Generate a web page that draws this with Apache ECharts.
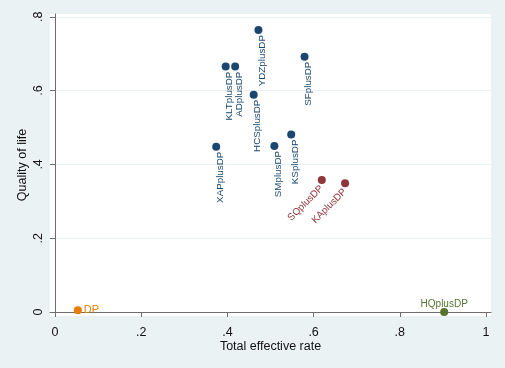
<!DOCTYPE html>
<html>
<head>
<meta charset="utf-8">
<script src="https://cdn.jsdelivr.net/npm/echarts@6/dist/echarts.min.js"></script>
<style>
  html, body { margin: 0; padding: 0; background: #eaf2f3; }
  #chart { width: 505px; height: 368px; }
</style>
</head>
<body>
<div id="chart"></div>
<script>
// treatment names, total effective rate (x), quality of life (y)
const names = ['DP', 'HQplusDP', 'XAPplusDP', 'KLTplusDP', 'ADplusDP', 'YDZplusDP',
  'HCSplusDP', 'SFplusDP', 'SMplusDP', 'KSplusDP', 'SQplusDP', 'KAplusDP'];
const rate = [0.053, 0.903, 0.374, 0.396, 0.418, 0.472, 0.461, 0.579, 0.509, 0.548, 0.619, 0.673];
const quality = [0.005, 0.0, 0.448, 0.665, 0.665, 0.764, 0.589, 0.692, 0.450, 0.481, 0.358, 0.349];

// groups (by colour in the original)
const navyGroup = ['XAPplusDP', 'KLTplusDP', 'ADplusDP', 'YDZplusDP', 'HCSplusDP', 'SFplusDP', 'SMplusDP', 'KSplusDP'];
const maroonGroup = ['SQplusDP', 'KAplusDP'];
const orangeGroup = ['DP'];
const greenGroup = ['HQplusDP'];

const xTicks = [0, 0.2, 0.4, 0.6, 0.8, 1];
const yTicks = [0, 0.2, 0.4, 0.6, 0.8];

const font = 'Arial, "Liberation Sans", sans-serif';

function pick(group) {
  return names
    .map((n, i) => ({ name: n, value: [rate[i], quality[i]] }))
    .filter(d => group.indexOf(d.name) >= 0);
}

function fmt(v) {
  if (Math.abs(v) < 1e-9) return '0';
  if (Math.abs(v - 1) < 1e-9) return '1';
  return String(+v.toFixed(1)).replace(/^0/, '');
}

function serie(group, color, label) {
  return {
    type: 'scatter',
    symbolSize: 8,
    itemStyle: { color: color, opacity: 1 },
    label: Object.assign({
      show: true,
      formatter: '{b}',
      color: color,
      fontSize: 10,
      fontFamily: font
    }, label),
    data: pick(group)
  };
}

const chart = echarts.init(document.getElementById('chart'));
chart.setOption({
  backgroundColor: '#eaf2f3',
  animation: false,
  grid: {
    left: 50,
    right: 14,
    top: 14,
    bottom: 52,
    show: true,
    backgroundColor: '#fff',
    borderWidth: 0
  },
  xAxis: {
    type: 'value',
    min: -0.0116,
    max: 1.0116,
    name: 'Total effective rate',
    nameLocation: 'middle',
    nameGap: 24,
    nameMoveOverlap: false,
    nameTextStyle: { color: '#111', fontSize: 12.5, fontFamily: font },
    axisLine: { show: true, lineStyle: { color: '#6e6e6e', width: 1 } },
    axisTick: { show: true, length: 5, customValues: xTicks, lineStyle: { color: '#6e6e6e' } },
    axisLabel: {
      customValues: xTicks,
      formatter: fmt,
      color: '#111',
      fontSize: 12.5,
      fontFamily: font,
      margin: 10
    },
    splitLine: { show: false }
  },
  yAxis: {
    type: 'value',
    min: -0.0108,
    max: 0.8076,
    name: 'Quality of life',
    nameLocation: 'middle',
    nameGap: 21,
    nameMoveOverlap: false,
    nameTextStyle: { color: '#111', fontSize: 12.5, fontFamily: font },
    axisLine: { show: true, lineStyle: { color: '#6e6e6e', width: 1 } },
    axisTick: { show: true, length: 5, customValues: yTicks, lineStyle: { color: '#6e6e6e' } },
    axisLabel: {
      customValues: yTicks,
      formatter: fmt,
      rotate: 90,
      color: '#111',
      fontSize: 12.5,
      fontFamily: font,
      margin: 5
    },
    splitLine: { show: true, lineStyle: { color: '#eaf2f3', width: 1 } }
  },
  series: [
    serie(navyGroup, '#1a476f', {
      position: 'bottom', distance: 1, rotate: 90, align: 'right', verticalAlign: 'middle',
      offset: [0, 4], fontSize: 9.8
    }),
    serie(maroonGroup, '#90353b', {
      position: 'bottom', distance: 3, rotate: 45, align: 'right', verticalAlign: 'middle', fontSize: 9.8
    }),
    serie(orangeGroup, '#e37e00', {
      position: 'right', distance: 2, fontSize: 11
    }),
    serie(greenGroup, '#55752f', {
      position: 'top', distance: -1, fontSize: 10
    })
  ]
});
</script>
</body>
</html>
